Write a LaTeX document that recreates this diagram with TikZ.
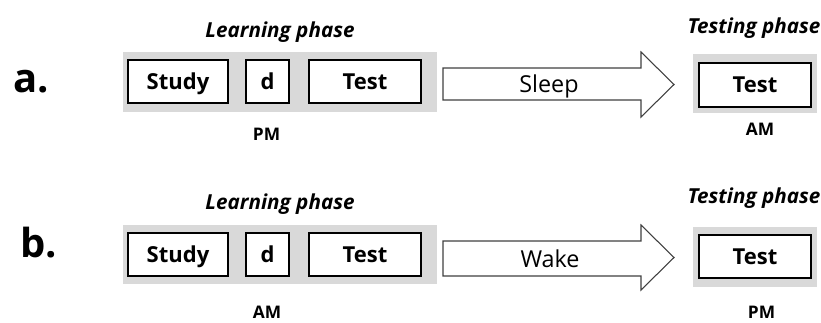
\documentclass[tikz,border=0pt]{standalone}
\usepackage{fontspec}
\setmainfont{Open Sans}
\definecolor{bandgray}{HTML}{D9D9D9}
\definecolor{arrowline}{HTML}{404040}
\begin{document}
\begin{tikzpicture}[x=0.75pt,y=-0.75pt,
  band/.style={fill=bandgray,draw=none,inner sep=0pt,minimum height=45pt},
  box/.style={draw=black,line width=1.1pt,fill=white,inner sep=0pt,minimum height=32.25pt,
    font=\fontsize{16.5}{19}\selectfont\bfseries,text height=11.8pt,text depth=0pt},
  phase/.style={font=\fontsize{15.5}{18}\selectfont\bfseries\itshape,anchor=base,inner sep=0pt},
  tod/.style={font=\fontsize{13}{15}\selectfont\bfseries,anchor=base,inner sep=0pt},
  rowlabel/.style={font=\fontsize{30}{34}\selectfont\bfseries,anchor=base west,inner sep=0pt},
  blockarrow/.style={draw=arrowline,line width=0.8pt,fill=white,line join=miter},
  arrowtext/.style={font=\fontsize{17.5}{20}\selectfont,anchor=base,inner sep=0pt}]
\useasboundingbox (0,0) rectangle (821,322);

% ---------- row a ----------
\node[rowlabel] (la) at (13,92) {a.};
\node[band,minimum width=235.5pt] (grayA) at (280,81.5) {};
\node[box,minimum width=75pt] (studyA) at (178,81.5) {Study};
\node[box,minimum width=32.25pt] (dA) at (267.5,81.5) {d};
\node[box,minimum width=84pt] (testA) at (365,81.5) {Test};
\node[phase] (learnA) at (280,37) {Learning phase};
\node[tod] (pmA) at (266.5,140) {PM};

\draw[blockarrow] (443,68) -- (641,68) -- (641,52) -- (674,84.5) -- (641,117) -- (641,100) -- (443,100) -- cycle;
\node[arrowtext] (sleep) at (549,92) {Sleep};

\node[band,minimum width=93pt,minimum height=44.25pt] (grayA2) at (755,83.5) {};
\node[box,minimum width=84pt,minimum height=33pt] (testA2) at (755,85) {Test};
\node[phase] (testingA) at (754,33) {Testing phase};
\node[tod] (amA) at (760,135) {AM};

% ---------- row b ----------
\node[rowlabel] (lb) at (20,257) {b.};
\node[band,minimum width=235.5pt,minimum height=44.25pt] (grayB) at (280,254.5) {};
\node[box,minimum width=75pt] (studyB) at (178,254.5) {Study};
\node[box,minimum width=32.25pt] (dB) at (267.5,254.5) {d};
\node[box,minimum width=84pt] (testB) at (365,254.5) {Test};
\node[phase] (learnB) at (280,209) {Learning phase};
\node[tod] (amB) at (267,318) {AM};

\draw[blockarrow] (443,241) -- (641,241) -- (641,225) -- (674,257.5) -- (641,290) -- (641,276) -- (443,276) -- cycle;
\node[arrowtext] (wake) at (550,267) {Wake};

\node[band,minimum width=93pt,minimum height=45pt] (grayB2) at (755,257) {};
\node[box,minimum width=84pt] (testB2) at (755,256.5) {Test};
\node[phase] (testingB) at (754,203) {Testing phase};
\node[tod] (pmB) at (761.5,318) {PM};
\end{tikzpicture}
\end{document}
